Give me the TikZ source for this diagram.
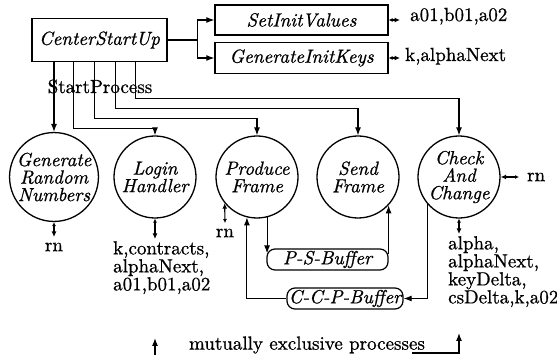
\documentclass[tikz,border=0pt]{standalone}
\usepackage{fontspec}
\setmainfont{lmroman10-regular.otf}[
  FakeBold=0.8,
  ItalicFont=lmroman10-italic.otf,
  ItalicFeatures={FakeBold=0.8}]
\usetikzlibrary{arrows.meta}
\begin{document}
\begin{tikzpicture}[x=1pt,y=-1pt,
  every node/.style={font=\fontsize{19}{18}\selectfont},
  box/.style={draw, rectangle, line width=1.3pt, inner sep=0pt,
    font=\fontsize{19}{18}\selectfont\itshape},
  proc/.style={draw, circle, line width=1.3pt, minimum size=82pt, inner sep=0pt,
    align=center, font=\fontsize{19}{17.5}\selectfont\itshape},
  buf/.style={draw, rectangle, rounded corners=8pt, line width=1.2pt, inner sep=0pt,
    font=\fontsize{19}{18}\selectfont\itshape},
  flow/.style={line width=1.1pt, -{Latex[length=8pt,width=6pt]}},
  io/.style={line width=1.1pt, {Latex[length=4pt,width=4pt]}-{Latex[length=5.5pt,width=5pt]}},
  lbl/.style={inner sep=2pt, align=left},
]
\useasboundingbox (0,0) rectangle (557,355);
\fill[white] (0,0) rectangle (557,355);

% start-up routine and its two initialisers
\node[box, minimum width=135pt, minimum height=43pt] (csu) at (99.5,40) {CenterStartUp};
\node[box, minimum width=173pt, minimum height=30pt] (siv) at (301.5,20) {SetInitValues};
\node[box, minimum width=173pt, minimum height=31pt] (gik) at (301.5,58) {GenerateInitKeys};

\draw[flow] (csu.east) -- ++(30,0) |- (siv.west);
\draw[flow] (csu.east) -- ++(30,0) |- (gik.west);

\node[lbl, anchor=base west, inner xsep=10pt] (o1) at (400,21) {a01,b01,a02};
\node[lbl, anchor=base west, inner xsep=5pt] (o2) at (400,61) {k,alphaNext};
\draw[io] (siv.east) -- (siv.east -| o1.west);
\draw[io] (gik.east) -- (gik.east -| o2.west);

% processes
\node[proc] (grn) at (54,177) {Generate\\Random\\Numbers};
\node[proc] (login) at (155,177) {Login\\Handler};
\node[proc] (produce) at (257,177) {Produce\\Frame};
\node[proc] (send) at (358,177) {Send\\Frame};
\node[proc] (check) at (459,177) {Check\\And\\Change};

\node[lbl, anchor=base] (sp) at (100,93) {StartProcess};

% StartProcess lines
\draw[flow] (grn.north |- csu.south) -- (grn.north);
\draw[flow] ([xshift=42pt]csu.south west) -- ++(0,66) -| (login.north);
\draw[flow] ([xshift=63pt]csu.south west) -- ++(0,56) -| (produce.north);
\draw[flow] ([xshift=84pt]csu.south west) -- ++(0,46) -| (send.north);
\draw[flow] ([xshift=104pt]csu.south west) -- ++(0,36) -| (check.north);

% data exchanged by the processes
\node[lbl, anchor=north, text height=12pt] (rn1) at (54,237) {rn};
\draw[io] (grn.south) -- (rn1.north);

\node[lbl, anchor=north west] (lgo) at (111,239) {k,contracts,\\alphaNext,\\a01,b01,a02};
\draw[io] (login.south) -- (login.south |- lgo.north);

\node[lbl, anchor=north, text height=12pt] (rn3) at (225,223) {rn};
\draw[io] (rn3.north) -- (produce.-141);

\node[lbl, anchor=north west] (cko) at (446,234) {alpha,\\alphaNext,\\keyDelta,\\csDelta,k,a02};
\draw[io] (check.south) -- (check.south |- cko.north);

\node[lbl, anchor=west, inner xsep=8pt] (rn4) at (519,177) {rn};
\draw[io] (rn4.west) -- (check.east);

% buffers
\node[buf, minimum width=121pt, minimum height=21pt] (psb) at (327.5,259.5) {P-S-Buffer};
\node[buf, minimum width=116pt, minimum height=21pt] (ccp) at (345,298.5) {C-C-P-Buffer};

\draw[flow] (produce.-76) -- ([yshift=-5pt]produce.-76 |- psb.north);
\draw[flow] ([yshift=-6pt]psb.north east) -- (psb.north east |- send.-43);
\draw[flow] (ccp.west) -| (produce.-104);
\draw[flow] (check.-139) |- (ccp.east);

% mutual exclusion marker
\node[lbl] (mx) at (307,345) {mutually exclusive processes};
\coordinate (exA) at (155,356);
\coordinate (exB) at (155,338);
\draw[flow] (exA) -- (exB);
\coordinate (exC) at (412,353);
\coordinate (exD) at (459,333);
\draw[flow] (exC) -| (exD);
\end{tikzpicture}
\end{document}
